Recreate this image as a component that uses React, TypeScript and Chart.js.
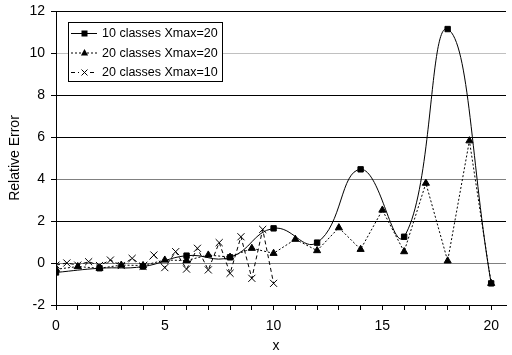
import React, { useEffect, useRef } from 'react';
import { Chart, registerables } from 'chart.js';

Chart.register(...registerables);

// ---- data ----
const xTenClasses = [0, 2, 4, 6, 8, 10, 12, 14, 16, 18, 20];
const errTenClasses = [-0.45, -0.25, -0.17, 0.35, 0.27, 1.65, 0.97, 4.46, 1.25, 11.14, -0.97];

const xTwentyClasses = [0, 1, 2, 3, 4, 5, 6, 7, 8, 9, 10, 11, 12, 13, 14, 15, 16, 17, 18, 19, 20];
const errTwentyClasses = [-0.3, -0.17, -0.25, -0.1, -0.12, 0.14, 0.12, 0.38, 0.28, 0.7, 0.46, 1.13, 0.59, 1.68, 0.65, 2.52, 0.54, 3.8, 0.1, 5.82, -0.97];

const xTwentyClassesMax10 = [0, 0.5, 1, 1.5, 2, 2.5, 3, 3.5, 4, 4.5, 5, 5.5, 6, 6.5, 7, 7.5, 8, 8.5, 9, 9.5, 10];
const errTwentyClassesMax10 = [-0.1, 0.0, -0.1, 0.06, -0.12, 0.14, -0.12, 0.22, -0.15, 0.38, -0.22, 0.54, -0.29, 0.7, -0.33, 0.97, -0.49, 1.25, -0.73, 1.6, -0.97];

const seriesLabels = ['10 classes Xmax=20', '20 classes Xmax=20', '20 classes Xmax=10'];
const xTickValues = [0, 1, 2, 3, 4, 5, 6, 7, 8, 9, 10, 11, 12, 13, 14, 15, 16, 17, 18, 19, 20];
const yTickValues = [-2, 0, 2, 4, 6, 8, 10, 12];
const xAxisTitle = 'x';
const yAxisTitle = 'Relative Error';

const FONT = '"Liberation Sans", Arial, sans-serif';
const DASHES: number[][] = [[], [2, 2], [4, 3]];

const toPoints = (xs: number[], ys: number[]) => xs.map((x, i) => ({ x, y: ys[i] }));

function drawMarker(ctx: CanvasRenderingContext2D, kind: number, x: number, y: number) {
  ctx.save();
  ctx.fillStyle = '#000';
  ctx.strokeStyle = '#000';
  ctx.lineWidth = 1;
  ctx.setLineDash([]);
  if (kind === 0) {
    ctx.fillRect(x - 3, y - 3, 6, 6);
  } else if (kind === 1) {
    ctx.beginPath();
    ctx.moveTo(x, y - 4);
    ctx.lineTo(x + 3.6, y + 2.5);
    ctx.lineTo(x - 3.6, y + 2.5);
    ctx.closePath();
    ctx.fill();
  } else {
    ctx.beginPath();
    ctx.moveTo(x - 3, y - 3);
    ctx.lineTo(x + 3, y + 3);
    ctx.moveTo(x + 3, y - 3);
    ctx.lineTo(x - 3, y + 3);
    ctx.stroke();
  }
  ctx.restore();
}

export default function App() {
  const ref = useRef<HTMLCanvasElement | null>(null);

  useEffect(() => {
    document.body.style.margin = '0';
    const canvas = ref.current!;
    Chart.defaults.font.family = FONT;

    const decorPlugin = {
      id: 'decor',
      afterDraw(chart: any) {
        const ctx = chart.ctx as CanvasRenderingContext2D;
        ctx.save();
        // axis titles
        ctx.fillStyle = '#000';
        ctx.font = `14px ${FONT}`;
        ctx.textAlign = 'center';
        ctx.textBaseline = 'middle';
        ctx.fillText(xAxisTitle, 276, 346);
        ctx.save();
        ctx.translate(15, 158);
        ctx.rotate(-Math.PI / 2);
        ctx.fillText(yAxisTitle, 0, 0);
        ctx.restore();

        // legend
        ctx.font = `12.5px ${FONT}`;
        const boxX = 68.5;
        const boxY = 22.5;
        const textX = 102;
        const rowYs = [33, 52.5, 72];
        let maxW = 0;
        seriesLabels.forEach((l) => { maxW = Math.max(maxW, ctx.measureText(l).width); });
        const boxW = Math.round(textX + maxW + 5 - boxX);
        const boxH = 59;
        ctx.fillStyle = '#fff';
        ctx.fillRect(boxX, boxY, boxW, boxH);
        ctx.strokeStyle = '#000';
        ctx.lineWidth = 1;
        ctx.strokeRect(boxX, boxY, boxW, boxH);

        seriesLabels.forEach((label, i) => {
          const y = rowYs[i] + 0.5;
          ctx.save();
          ctx.setLineDash(DASHES[i]);
          ctx.strokeStyle = '#000';
          ctx.lineWidth = 1;
          ctx.beginPath();
          if (i === 2) {
            ctx.moveTo(71, y); ctx.lineTo(79, y);
            ctx.moveTo(90, y); ctx.lineTo(97, y);
          } else {
            ctx.moveTo(71, y);
            ctx.lineTo(97, y);
          }
          ctx.stroke();
          ctx.restore();
          drawMarker(ctx, i, 84.5, y);
          ctx.fillStyle = '#000';
          ctx.textAlign = 'left';
          ctx.textBaseline = 'middle';
          ctx.fillText(label, textX, y + 0.5);
        });
        ctx.restore();
      },
    };

    const tickFont = { family: FONT, size: 14 };

    const chart = new Chart(canvas, {
      type: 'scatter',
      data: {
        datasets: [
          {
            label: seriesLabels[0],
            data: toPoints(xTenClasses, errTenClasses),
            showLine: true,
            borderColor: '#000',
            backgroundColor: '#000',
            borderWidth: 1,
            tension: 0.45,
            pointStyle: 'rect',
            pointRadius: 3.8,
            pointBorderWidth: 1,
            pointBackgroundColor: '#000',
            pointBorderColor: '#000',
          },
          {
            label: seriesLabels[1],
            data: toPoints(xTwentyClasses, errTwentyClasses),
            showLine: true,
            borderColor: '#000',
            backgroundColor: '#000',
            borderWidth: 1,
            borderDash: DASHES[1],
            tension: 0,
            pointStyle: 'triangle',
            pointRadius: 4.1,
            pointBorderWidth: 1,
            pointBackgroundColor: '#000',
            pointBorderColor: '#000',
          },
          {
            label: seriesLabels[2],
            data: toPoints(xTwentyClassesMax10, errTwentyClassesMax10),
            showLine: true,
            borderColor: '#000',
            backgroundColor: '#000',
            borderWidth: 1,
            borderDash: DASHES[2],
            tension: 0,
            pointStyle: 'crossRot',
            pointRadius: 5,
            pointBorderWidth: 1,
            pointBackgroundColor: '#000',
            pointBorderColor: '#000',
          },
        ],
      },
      options: {
        animation: false,
        responsive: false,
        maintainAspectRatio: false,
        layout: { padding: { top: 11, right: 1, left: 0, bottom: 0 } },
        plugins: { legend: { display: false }, tooltip: { enabled: false } },
        scales: {
          x: {
            type: 'linear',
            min: 0,
            max: 455 / 22,
            afterBuildTicks: (s: any) => { s.ticks = xTickValues.map((v) => ({ value: v })); },
            afterFit: (s: any) => { s.height = 50; s.paddingLeft = 0; s.paddingRight = 0; },
            ticks: {
              autoSkip: false,
              maxRotation: 0,
              color: '#000',
              font: tickFont,
              padding: 8,
              callback: (v: any) => (Number(v) % 5 === 0 ? String(v) : ''),
            },
            grid: { drawOnChartArea: false, drawTicks: true, tickLength: 5, color: '#000', tickColor: '#000' },
            border: { display: true, color: '#000', width: 1 },
          },
          y: {
            type: 'linear',
            min: -2,
            max: 12,
            afterBuildTicks: (s: any) => { s.ticks = yTickValues.map((v) => ({ value: v })); },
            afterFit: (s: any) => { s.width = 56; s.paddingTop = 0; s.paddingBottom = 0; },
            ticks: { color: '#000', font: tickFont, padding: 6 },
            grid: {
              drawTicks: true,
              tickLength: 5,
              tickColor: '#000',
              color: (c: any) => {
                const v = c.tick?.value;
                if (v === 10) return '#c0c0c0';
                if (v === 4 || v === 0) return '#808080';
                return '#000';
              },
            },
            border: { display: true, color: '#000', width: 1 },
          },
        },
      },
      plugins: [decorPlugin],
    });

    return () => chart.destroy();
  }, []);

  return (
    <canvas ref={ref} width={512} height={355} style={{ display: 'block', width: 512, height: 355 }} />
  );
}
